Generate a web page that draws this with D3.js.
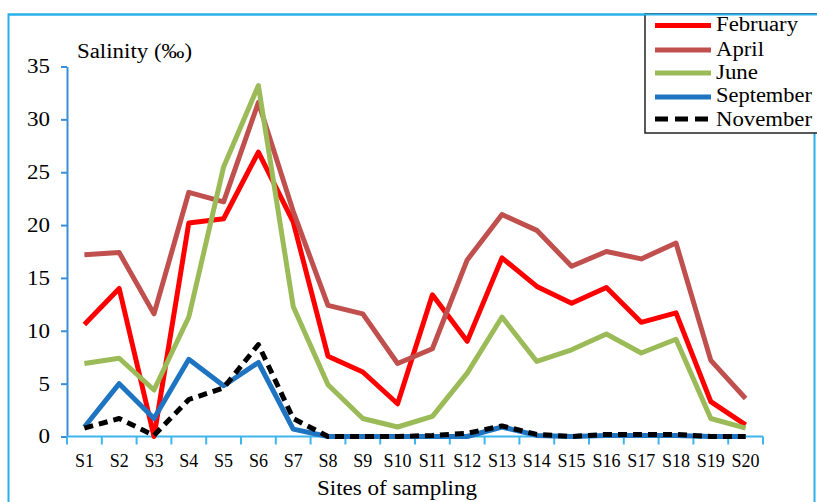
<!DOCTYPE html>
<html>
<head>
<meta charset="utf-8">
<script src="https://cdn.jsdelivr.net/npm/d3@7"></script>
<style>
  html, body { margin: 0; padding: 0; background: #fff; }
  svg { display: block; }
  text { font-family: "Liberation Serif", "Times New Roman", serif; fill: #000; }
</style>
</head>
<body>
<svg id="chart" width="817" height="502"></svg>
<script>
const sites = ["S1","S2","S3","S4","S5","S6","S7","S8","S9","S10","S11","S12","S13","S14","S15","S16","S17","S18","S19","S20"];
const february  = [10.6, 14.0, 0.0, 20.2, 20.6, 26.9, 20.3, 7.6, 6.1, 3.1, 13.4, 9.0, 16.9, 14.2, 12.6, 14.1, 10.8, 11.7, 3.3, 1.1];
const april     = [17.2, 17.4, 11.6, 23.1, 22.2, 31.6, 21.3, 12.4, 11.6, 6.9, 8.3, 16.7, 21.0, 19.5, 16.1, 17.5, 16.8, 18.3, 7.2, 3.6];
const june      = [6.9, 7.4, 4.4, 11.3, 25.5, 33.2, 12.3, 4.9, 1.7, 0.9, 1.9, 6.0, 11.3, 7.1, 8.2, 9.7, 7.9, 9.2, 1.7, 0.8];
const september = [0.9, 5.0, 1.7, 7.3, 4.8, 7.0, 0.7, 0.0, 0.0, 0.0, 0.0, 0.0, 0.9, 0.1, 0.0, 0.1, 0.1, 0.1, 0.0, 0.0];
const november  = [0.8, 1.7, 0.1, 3.5, 4.6, 8.7, 1.7, 0.0, 0.0, 0.0, 0.1, 0.3, 1.0, 0.2, 0.0, 0.2, 0.2, 0.2, 0.0, 0.0];
const yTicks = [0, 5, 10, 15, 20, 25, 30, 35];
const seriesNames = ["February", "April", "June", "September", "November"];
const seriesColors = ["#ff0000", "#c0504d", "#9bbb59", "#1f74c2", "#000000"];
const seriesData = [february, april, june, september, november];

const svg = d3.select("#chart");

const x = d3.scaleBand().domain(sites).range([67, 763]);
const y = d3.scaleLinear().domain([0, 35]).range([436.5, 66.5]);

// outer frame
svg.append("rect")
  .attr("x", 8.5).attr("y", 14.5).attr("width", 806).attr("height", 600)
  .attr("fill", "none").attr("stroke", "#29b0ea").attr("stroke-width", 2);

// y axis
const yAxis = svg.append("g").attr("transform", "translate(67,0)")
  .call(d3.axisLeft(y).tickValues(yTicks).tickSize(6).tickSizeOuter(0).tickFormat(d3.format("d")));
yAxis.select(".domain").attr("stroke", "#3b8ed8").attr("stroke-width", 2);
yAxis.selectAll(".tick line").attr("stroke", "#3b8ed8").attr("stroke-width", 2);
yAxis.selectAll(".tick text")
  .attr("x", -17)
  .attr("textLength", d => String(d).length * 11.5)
  .attr("lengthAdjust", "spacingAndGlyphs")
  .style("font-family", "'Liberation Serif', serif").style("font-size", "20px").attr("fill", "#000");

// x axis with ticks at band boundaries
const xAxis = svg.append("g").attr("transform", "translate(0,436.5)");
xAxis.append("line").attr("x1", 67).attr("x2", 763).attr("y1", 0).attr("y2", 0)
  .attr("stroke", "#3fb5ee").attr("stroke-width", 2);
const bounds = sites.map(s => x(s)).concat([x(sites[sites.length - 1]) + x.bandwidth()]);
xAxis.selectAll("line.tk").data(bounds).join("line").attr("class", "tk")
  .attr("x1", d => d).attr("x2", d => d).attr("y1", 0).attr("y2", 8)
  .attr("stroke", "#3fb5ee").attr("stroke-width", 2);
xAxis.selectAll("text.lbl").data(sites).join("text").attr("class", "lbl")
  .attr("x", d => x(d) + x.bandwidth() / 2).attr("y", 30.5)
  .attr("text-anchor", "middle").style("font-size", "18px").text(d => d);

// axis titles
svg.append("text").attr("x", 77).attr("y", 58).style("font-size", "20px")
  .attr("textLength", 115).attr("lengthAdjust", "spacingAndGlyphs").text("Salinity (‰)");
svg.append("text").attr("x", 317).attr("y", 495).style("font-size", "21px")
  .attr("textLength", 160).attr("lengthAdjust", "spacingAndGlyphs").text("Sites of sampling");

// lines
const line = d3.line()
  .x((d, i) => x(sites[i]) + x.bandwidth() / 2)
  .y(d => y(d));

seriesData.forEach((data, k) => {
  svg.append("path").datum(data)
    .attr("fill", "none")
    .attr("stroke", seriesColors[k])
    .attr("stroke-width", 5)
    .attr("stroke-linejoin", "round")
    .attr("stroke-dasharray", k === 4 ? "9,6" : null)
    .attr("d", line);
});

// legend
const lg = svg.append("g");
lg.append("rect").attr("x", 645).attr("y", 14).attr("width", 200).attr("height", 119)
  .attr("fill", "#fff").attr("stroke", "#222").attr("stroke-width", 1.5);
svg.append("line").attr("x1", 8).attr("x2", 817).attr("y1", 14.5).attr("y2", 14.5)
  .attr("stroke", "#29b0ea").attr("stroke-width", 2);
const legY = [25.5, 50, 73, 97, 119];
const legBase = [31, 56, 79, 102, 126];
const legLen = [82, 48, 42, 96, 96];
seriesNames.forEach((name, k) => {
  lg.append("line").attr("x1", 655).attr("x2", 711).attr("y1", legY[k]).attr("y2", legY[k])
    .attr("stroke", seriesColors[k]).attr("stroke-width", 5)
    .attr("stroke-dasharray", k === 4 ? "13,7" : null);
  lg.append("text").attr("x", 716).attr("y", legBase[k]).style("font-size", "20px")
    .attr("textLength", legLen[k]).attr("lengthAdjust", "spacingAndGlyphs").text(name);
});
</script>
</body>
</html>
